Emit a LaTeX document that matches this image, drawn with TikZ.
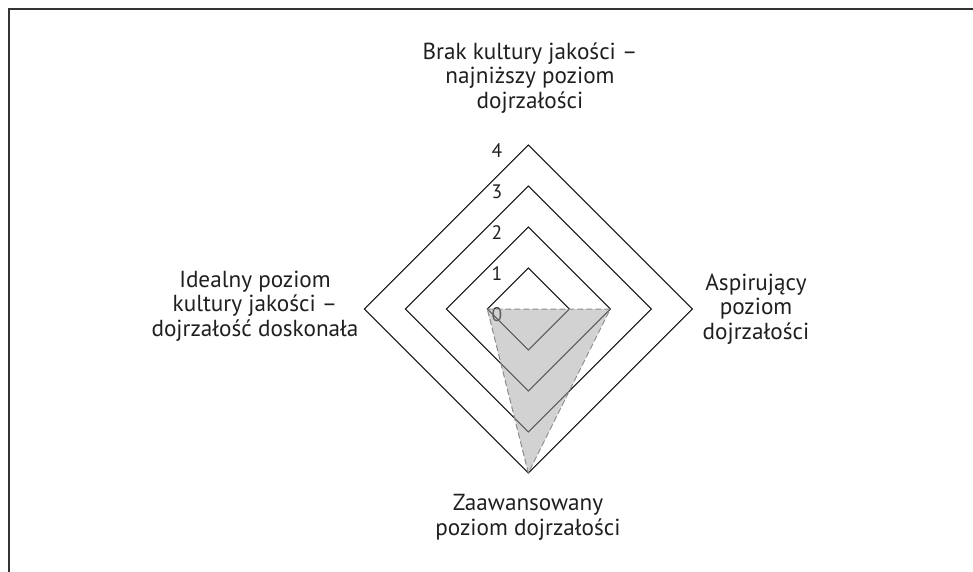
\documentclass[tikz,border=0pt]{standalone}
\usepackage{fontspec}
\setmainfont{PT Sans}
\usetikzlibrary{calc}
\begin{document}
\begin{tikzpicture}[x=1pt,y=-1pt,
  ring/.style={draw=black!92, line width=1pt},
  frameline/.style={draw=black!80, line width=2pt},
  axislabel/.style={font=\fontsize{23.2}{24.5}\selectfont, align=center, text=black!88, anchor=base, inner sep=0pt},
  ticklabel/.style={font=\fontsize{19.5}{20}\selectfont, text=black!88, anchor=base, inner sep=0pt},
  series/.style={fill=black!36, fill opacity=0.49, draw=black!45, dash pattern=on 6pt off 3pt, line width=1pt}]
\useasboundingbox (0,0) rectangle (973,571);

% outer frame (open to the right and bottom)
\draw[frameline] (9,580) -- (9,9) -- (980,9);

% centre of the radar and step between levels
\coordinate (c) at (528.3,309);
\def\lvl{41}

% scale labels
\foreach \k in {0,...,4}
  \node[ticklabel] (t\k) at (497,{309-\k*\lvl+12.5}) {\k};

% concentric level diamonds
\foreach \k in {1,...,4}
  \draw[ring] ($(c)+(0,-\k*\lvl)$) -- ($(c)+(\k*\lvl,0)$) -- ($(c)+(0,\k*\lvl)$) -- ($(c)+(-\k*\lvl,0)$) -- cycle;

% data series: left 1, top 0, right 2, bottom 4
\coordinate (pl) at ($(c)+(-\lvl,0)$);
\coordinate (pt) at (c);
\coordinate (pr) at ($(c)+(2*\lvl,0)$);
\coordinate (pb) at ($(c)+(0,4*\lvl)$);
\draw[series] (pl) -- (pt) -- (pr) -- (pb) -- cycle;

% axis titles (anchored at the baseline of their last line)
\node[axislabel] (top) at (530,108) {Brak kultury jakości –\\najniższy poziom\\dojrzałości};
\node[axislabel] (right) at (756,339) {Aspirujący\\poziom\\dojrzałości};
\node[axislabel] (bottom) at (528,535) {Zaawansowany\\poziom dojrzałości};
\node[axislabel] (left) at (255,336) {Idealny poziom\\kultury jakości –\\dojrzałość doskonała};
\end{tikzpicture}
\end{document}
